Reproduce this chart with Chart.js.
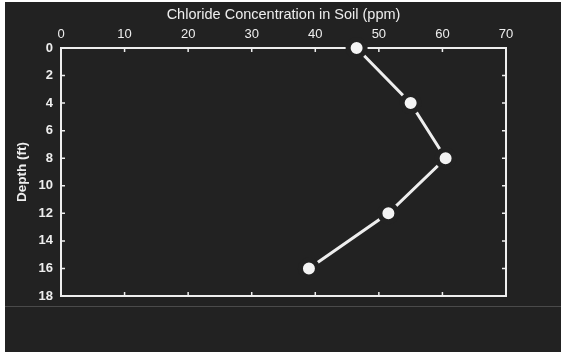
<!DOCTYPE html>
<html>
<head>
<meta charset="utf-8">
<script src="https://cdn.jsdelivr.net/npm/chart.js@4"></script>
<style>
  html, body { margin: 0; padding: 0; background: #ffffff; }
  #wrap { position: absolute; left: 5px; top: 2px; width: 556px; height: 350px; background: #222222; }
  canvas { display: block; }
</style>
</head>
<body>
<div id="wrap"><canvas id="chlorideChart" width="556" height="350"></canvas></div>
<script>
  // depth (ft) and chloride (ppm)
  const depths = [0, 4, 8, 12, 16];
  const chloride = [46.5, 55, 60.5, 51.5, 39];
  const xTicks = [0, 10, 20, 30, 40, 50, 60, 70];
  const yTicks = [0, 2, 4, 6, 8, 10, 12, 14, 16, 18];

  const points = depths.map((d, i) => ({ x: chloride[i], y: d }));
  const ink = "#eeeeee";
  const bg = "#222222";

  // frame around the plot with inward tick marks, plus the lower band line
  const framePlugin = {
    id: "frame",
    beforeDraw(chart) {
      const c = chart.ctx;
      c.save();
      c.strokeStyle = "#4a4a4a";
      c.lineWidth = 1;
      c.beginPath();
      c.moveTo(0, 304.5);
      c.lineTo(chart.width, 304.5);
      c.stroke();
      c.restore();
    },
    beforeDatasetsDraw(chart) {
      const c = chart.ctx;
      const a = chart.chartArea;
      const xs = chart.scales.x;
      const ys = chart.scales.y;
      const len = 4;
      c.save();
      c.strokeStyle = ink;
      c.lineWidth = 2;
      c.strokeRect(a.left, a.top, a.right - a.left, a.bottom - a.top);
      c.lineWidth = 1.5;
      c.beginPath();
      xTicks.slice(1, -1).forEach((v) => {
        const px = xs.getPixelForValue(v);
        c.moveTo(px, a.top); c.lineTo(px, a.top + len);
        c.moveTo(px, a.bottom); c.lineTo(px, a.bottom - len);
      });
      yTicks.slice(1, -1).forEach((v) => {
        const py = ys.getPixelForValue(v);
        c.moveTo(a.left, py); c.lineTo(a.left + len, py);
        c.moveTo(a.right, py); c.lineTo(a.right - len, py);
      });
      c.stroke();
      c.restore();
    },
  };

  new Chart(document.getElementById("chlorideChart").getContext("2d"), {
    type: "scatter",
    data: {
      datasets: [
        {
          data: points,
          showLine: true,
          borderColor: ink,
          borderWidth: 3,
          clip: false,
          pointRadius: 8.5,
          pointBackgroundColor: "#f4f4f4",
          pointBorderColor: bg,
          pointBorderWidth: 5,
        },
      ],
    },
    options: {
      responsive: false,
      animation: false,
      layout: { padding: { left: 0, top: 0, right: 55, bottom: 56 } },
      plugins: { legend: { display: false }, tooltip: { enabled: false } },
      scales: {
        x: {
          position: "top",
          min: 0,
          max: 70,
          afterBuildTicks: (s) => { s.ticks = xTicks.map((v) => ({ value: v })); },
          afterFit: (s) => { s.height = 46; },
          grid: { display: false, drawTicks: false },
          border: { display: false },
          ticks: { color: ink, padding: 6, maxRotation: 0, font: { family: "Liberation Sans", size: 13 } },
          title: {
            display: true,
            text: "Chloride Concentration in Soil (ppm)",
            color: ink,
            padding: { top: 4, bottom: 0 },
            font: { family: "Liberation Sans", size: 14.5 },
          },
        },
        y: {
          reverse: true,
          min: 0,
          max: 18,
          afterBuildTicks: (s) => { s.ticks = yTicks.map((v) => ({ value: v })); },
          afterFit: (s) => { s.width = 56; },
          grid: { display: false, drawTicks: false },
          border: { display: false },
          ticks: { color: ink, padding: 8, font: { family: "Liberation Sans", size: 13, weight: "bold" } },
          title: {
            display: true,
            text: "Depth (ft)",
            color: ink,
            padding: { top: 9, bottom: 0 },
            font: { family: "Liberation Sans", size: 13.5, weight: "bold" },
          },
        },
      },
    },
    plugins: [framePlugin],
  });
</script>
</body>
</html>
